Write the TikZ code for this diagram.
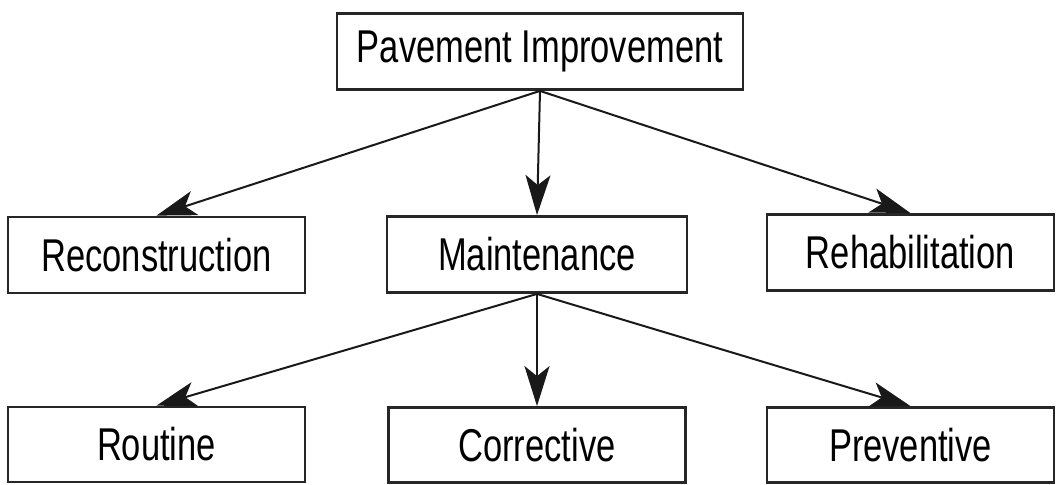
\documentclass[tikz,border=0pt]{standalone}
\usepackage{fontspec}
\setmainfont{Liberation Sans}[FakeStretch=0.75]
\usetikzlibrary{arrows.meta}

\begin{document}
\begin{tikzpicture}[x=0.5pt, y=-0.5pt,
    box/.style={draw=black!85, line width=1.4pt, fill=white, inner sep=0pt,
      minimum height=38pt, font=\fontsize{23}{27}\selectfont},
    link/.style={-{Stealth[length=20pt,width=12.5pt,inset=5pt]}, line width=1pt, black!90}]
  \useasboundingbox (0,0) rectangle (1056,484);

  % Top
  \node[box, minimum width=203pt] (pave) at (540,51.5) {Pavement Improvement};

  % Second row
  \node[box, minimum width=148.5pt] (recon) at (156.5,255) {Reconstruction};
  \node[box, minimum width=150pt] (maint) at (537,254.5) {Maintenance};
  \node[box, minimum width=143.5pt] (rehab) at (910.5,252.5) {Rehabilitation};

  % Third row
  \node[box, minimum width=148.5pt, minimum height=37.5pt] (routine) at (156.5,444.5) {Routine};
  \node[box, minimum width=148.5pt, minimum height=37.5pt] (corr) at (537,445) {Corrective};
  \node[box, minimum width=143.5pt, minimum height=37.5pt] (prev) at (910.5,445) {Preventive};

  % Arrows
  \draw[link] (pave.south) -- (recon.north);
  \draw[link] (pave.south) -- (maint.north);
  \draw[link] (pave.south) -- (rehab.north);
  \draw[link] (maint.south) -- (routine.north);
  \draw[link] (maint.south) -- (corr.north);
  \draw[link] (maint.south) -- (prev.north);
\end{tikzpicture}
\end{document}
